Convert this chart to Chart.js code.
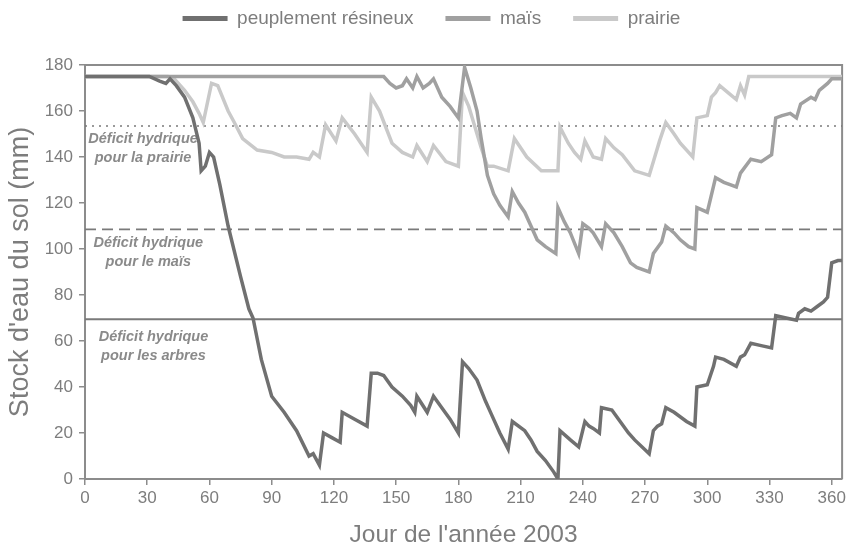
<!DOCTYPE html>
<html>
<head>
<meta charset="utf-8">
<script src="https://cdn.jsdelivr.net/npm/chart.js@4.4.1/dist/chart.umd.min.js"></script>
<style>
  html, body { margin: 0; padding: 0; background: #fff; }
</style>
</head>
<body>
<canvas id="stock-canvas" width="849" height="553"></canvas>
<script>
'use strict';

// Soil water stock (mm) per day of year 2003
var resineuxDays = [0, 31, 36, 39, 41, 44, 48, 52, 55, 56, 58, 60, 62, 65, 69, 75, 79, 81, 85, 90, 96, 102, 108, 110, 113, 115, 119, 123, 124, 130, 136, 138, 141, 144, 148, 153, 157, 159, 160, 165, 168, 172, 176, 180, 182, 185, 189, 193, 196, 200, 204, 206, 212, 215, 218, 222, 226, 228, 229, 234, 238, 241, 243, 245, 248, 249, 254, 258, 262, 265, 272, 274, 276, 278, 280, 284, 290, 294, 295, 300, 303, 304, 308, 314, 316, 318, 321, 326, 331, 333, 338, 343, 344, 347, 350, 353, 356, 358, 360, 363, 365];
var resineuxStock = [175, 175, 173, 172, 174, 171, 166, 157, 146, 134, 136, 142, 140, 128, 110, 88, 74, 70, 52, 36, 29, 21, 10, 11, 6, 20, 18, 16, 29, 26, 23, 46, 46, 45, 40, 36, 32, 29, 36, 29, 36, 31, 26, 20, 51, 48, 43, 34, 28, 20, 13, 25, 21, 17, 12, 8, 3, 0, 21, 17, 14, 25, 23, 22, 20, 31, 30, 25, 20, 17, 11, 21, 23, 24, 31, 29, 25, 23, 40, 41, 49, 53, 52, 49, 53, 54, 59, 58, 57, 71, 70, 69, 72, 74, 73, 75, 77, 79, 94, 95, 95];

var maisDays = [0, 144, 147, 150, 153, 155, 158, 160, 163, 166, 168, 172, 176, 180, 183, 186, 189, 191, 194, 197, 200, 204, 206, 209, 212, 215, 218, 222, 227, 228, 231, 234, 238, 240, 243, 245, 249, 251, 255, 259, 263, 266, 272, 274, 278, 280, 284, 287, 291, 294, 295, 300, 304, 308, 311, 314, 316, 321, 326, 331, 333, 336, 340, 343, 345, 350, 352, 354, 358, 360, 365];
var maisStock = [175, 175, 172, 170, 171, 174, 170, 175, 170, 172, 174, 166, 162, 157, 179, 170, 160, 148, 132, 124, 119, 114, 125, 120, 116, 110, 104, 101, 98, 118, 112, 107, 98, 111, 109, 107, 101, 111, 107, 101, 94, 92, 90, 98, 103, 110, 107, 104, 101, 100, 118, 116, 131, 129, 128, 127, 133, 139, 138, 141, 157, 158, 159, 157, 163, 166, 165, 169, 172, 174, 174];

var prairieDays = [0, 40, 43, 48, 52, 55, 57, 61, 64, 69, 72, 76, 83, 90, 96, 102, 108, 110, 113, 116, 121, 124, 130, 136, 138, 142, 148, 153, 158, 160, 165, 168, 174, 180, 182, 185, 188, 191, 194, 197, 204, 207, 213, 220, 228, 229, 233, 236, 239, 241, 245, 249, 251, 255, 259, 265, 272, 275, 277, 280, 284, 287, 293, 295, 300, 302, 304, 306, 310, 314, 316, 318, 320, 365];
var prairieStock = [175, 175, 174, 169, 164, 159, 155, 172, 171, 160, 155, 148, 143, 142, 140, 140, 139, 142, 140, 154, 147, 157, 150, 142, 166, 160, 146, 142, 140, 145, 138, 145, 138, 136, 168, 162, 153, 144, 136, 136, 134, 148, 140, 134, 134, 153, 146, 142, 139, 147, 140, 139, 148, 144, 141, 134, 132, 141, 147, 155, 150, 146, 140, 157, 158, 166, 168, 171, 168, 165, 171, 167, 175, 175];

// Water deficit thresholds (mm): prairie, maïs, arbres
var seuilLabels = ['pour la prairie', 'pour le maïs', 'pour les arbres'];
var seuilStock = [153.5, 108.5, 69.5];

var xTicks = [0, 30, 60, 90, 120, 150, 180, 210, 240, 270, 300, 330, 360];

var axisColor = '#8c8c8c';
var textColor = '#7d7d7d';
var sans = '"Liberation Sans", Arial, sans-serif';

function toPoints(days, values) {
  return days.map(function(d, i) { return { x: d, y: values[i] }; });
}

function seuilLine(value, dash, width) {
  return {
    label: 'seuil',
    data: [{ x: 0, y: value }, { x: 365, y: value }],
    borderColor: '#7a7a7a',
    borderWidth: width,
    borderDash: dash,
    pointRadius: 0
  };
}

// top and right border of the plot box
var frame = {
  id: 'frame',
  beforeDatasetsDraw: function(chart) {
    var a = chart.chartArea, ctx = chart.ctx;
    ctx.save();
    ctx.strokeStyle = axisColor;
    ctx.lineWidth = 2;
    ctx.beginPath();
    ctx.moveTo(a.left, a.top);
    ctx.lineTo(a.right, a.top);
    ctx.lineTo(a.right, a.bottom);
    ctx.stroke();
    ctx.restore();
  }
};

// "Déficit hydrique" notes under each threshold line
var noteDays = [28, 30.5, 33];
var noteOffsets = [13, 13.5, 18];
var deficitNotes = {
  id: 'deficitNotes',
  beforeDatasetsDraw: function(chart) {
    var ctx = chart.ctx, xs = chart.scales.x, ys = chart.scales.y;
    ctx.save();
    ctx.fillStyle = '#8a8a8a';
    ctx.font = 'italic bold 14.5px ' + sans;
    ctx.textAlign = 'center';
    ctx.textBaseline = 'middle';
    seuilStock.forEach(function(v, i) {
      var x = xs.getPixelForValue(noteDays[i]);
      var y = ys.getPixelForValue(v) + noteOffsets[i];
      ctx.fillText('Déficit hydrique', x, y);
      ctx.fillText(seuilLabels[i], x, y + 19);
    });
    ctx.restore();
  }
};

// extra room between legend and plot, legend row nudged right
var legendSpacer = {
  id: 'legendSpacer',
  beforeInit: function(chart) {
    var fit = chart.legend.fit;
    chart.legend.fit = function() {
      fit.call(this);
      this.height += 27;
      if (this.lineWidths && this.lineWidths.length) {
        this.lineWidths[0] -= 20;
      }
    };
  }
};

var canvas = document.getElementById('stock-canvas');

var config = {
  type: 'line',
  data: {
    datasets: [
      {
        label: 'peuplement résineux',
        data: toPoints(resineuxDays, resineuxStock),
        borderColor: '#707070',
        backgroundColor: '#707070',
        borderWidth: 3.5,
        pointRadius: 0
      },
      {
        label: 'maïs',
        data: toPoints(maisDays, maisStock),
        borderColor: '#a0a0a0',
        backgroundColor: '#a0a0a0',
        borderWidth: 3.5,
        pointRadius: 0
      },
      {
        label: 'prairie',
        data: toPoints(prairieDays, prairieStock),
        borderColor: '#c9c9c9',
        backgroundColor: '#c9c9c9',
        borderWidth: 3.5,
        pointRadius: 0
      },
      seuilLine(seuilStock[0], [2, 5], 1.5),
      seuilLine(seuilStock[1], [11, 6], 1.8),
      seuilLine(seuilStock[2], [], 2)
    ]
  },
  options: {
    responsive: false,
    animation: false,
    layout: { padding: { top: -23, right: 6, left: 0, bottom: 0 } },
    elements: { line: { tension: 0 } },
    plugins: {
      tooltip: { enabled: false },
      legend: {
        display: true,
        position: 'top',
        labels: {
          usePointStyle: true,
          pointStyle: 'line',
          pointStyleWidth: 45,
          padding: 32,
          color: textColor,
          font: { family: sans, size: 19 },
          filter: function(item) { return item.datasetIndex < 3; },
          generateLabels: function(chart) {
            var items = Chart.defaults.plugins.legend.labels.generateLabels(chart);
            items.forEach(function(it) { it.lineWidth = 5; });
            return items;
          }
        }
      }
    },
    scales: {
      x: {
        type: 'linear',
        min: 0,
        max: 365,
        afterFit: function(scale) { scale.height = 74; },
        afterBuildTicks: function(scale) {
          scale.ticks = xTicks.map(function(v) { return { value: v }; });
        },
        border: { display: true, color: axisColor, width: 2 },
        grid: { drawOnChartArea: false, drawTicks: true, tickLength: 6, color: axisColor, lineWidth: 1.5 },
        ticks: {
          padding: 3,
          color: textColor,
          maxRotation: 0,
          font: { family: sans, size: 17 }
        },
        title: {
          display: true,
          text: "Jour de l'année 2003",
          color: textColor,
          padding: { top: 0, bottom: 3 },
          font: { family: sans, size: 24.5 }
        }
      },
      y: {
        min: 0,
        max: 180,
        afterFit: function(scale) { scale.width = 85; },
        border: { display: true, color: axisColor, width: 2 },
        grid: { drawOnChartArea: false, drawTicks: true, tickLength: 6, color: axisColor, lineWidth: 1.5 },
        ticks: {
          stepSize: 20,
          padding: 6,
          color: textColor,
          font: { family: sans, size: 17 }
        },
        title: {
          display: true,
          text: "Stock d'eau du sol (mm)",
          color: textColor,
          padding: { top: 4, bottom: 0 },
          font: { family: sans, size: 27 }
        }
      }
    }
  },
  plugins: [frame, deficitNotes, legendSpacer]
};

window.chart = new Chart(canvas, config);
</script>
</body>
</html>
